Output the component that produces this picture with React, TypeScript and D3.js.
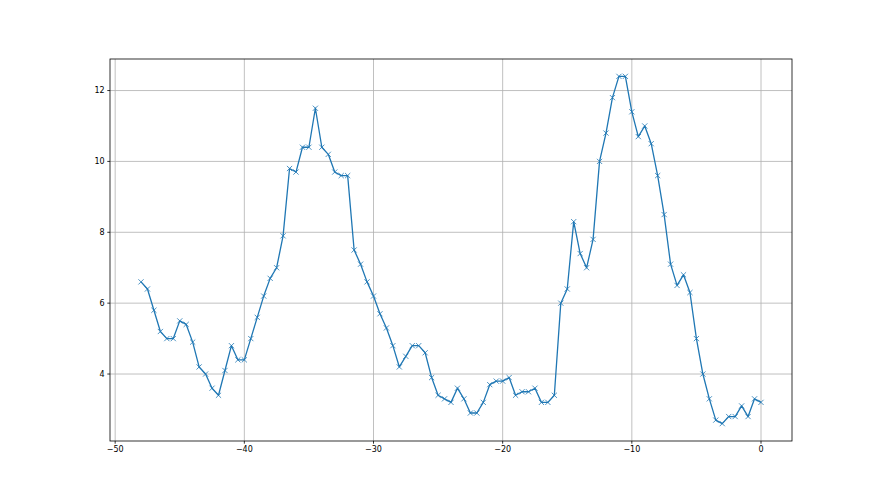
import React from "react";
import * as d3 from "d3";

const xValues: number[] = [
  -48, -47.5, -47, -46.5, -46, -45.5, -45, -44.5, -44, -43.5, -43, -42.5, -42, -41.5, -41, -40.5, -40,
  -39.5, -39, -38.5, -38, -37.5, -37, -36.5, -36, -35.5, -35, -34.5, -34, -33.5, -33, -32.5, -32, -31.5, -31, -30.5, -30,
  -29.5, -29, -28.5, -28, -27.5, -27, -26.5, -26, -25.5, -25, -24.5, -24, -23.5, -23, -22.5, -22, -21.5, -21, -20.5, -20,
  -19.5, -19, -18.5, -18, -17.5, -17, -16.5, -16, -15.5, -15, -14.5, -14, -13.5, -13, -12.5, -12, -11.5, -11, -10.5, -10,
  -9.5, -9, -8.5, -8, -7.5, -7, -6.5, -6, -5.5, -5, -4.5, -4, -3.5, -3, -2.5, -2, -1.5, -1, -0.5, 0,
];

const yValues: number[] = [
  6.6, 6.4, 5.8, 5.2, 5.0, 5.0, 5.5, 5.4, 4.9, 4.2, 4.0, 3.6, 3.4, 4.1, 4.8, 4.4, 4.4,
  5.0, 5.6, 6.2, 6.7, 7.0, 7.9, 9.8, 9.7, 10.4, 10.4, 11.5, 10.4, 10.2, 9.7, 9.6, 9.6, 7.5, 7.1, 6.6, 6.2,
  5.7, 5.3, 4.8, 4.2, 4.5, 4.8, 4.8, 4.6, 3.9, 3.4, 3.3, 3.2, 3.6, 3.3, 2.9, 2.9, 3.2, 3.7, 3.8, 3.8,
  3.9, 3.4, 3.5, 3.5, 3.6, 3.2, 3.2, 3.4, 6.0, 6.4, 8.3, 7.4, 7.0, 7.8, 10.0, 10.8, 11.8, 12.4, 12.4, 11.4,
  10.7, 11.0, 10.5, 9.6, 8.5, 7.1, 6.5, 6.8, 6.3, 5.0, 4.0, 3.3, 2.7, 2.6, 2.8, 2.8, 3.1, 2.8, 3.3, 3.2,
];

const xTicks: number[] = [-50, -40, -30, -20, -10, 0];
const yTicks: number[] = [4, 6, 8, 10, 12];

const W = 880;
const H = 495;
const left = 110;
const right = 792;
const top = 59;
const bottom = 441;
const color = "#1f77b4";

export default function App() {
  const xMin = d3.min(xValues)!;
  const xMax = d3.max(xValues)!;
  const yMin = d3.min(yValues)!;
  const yMax = d3.max(yValues)!;
  const xPad = (xMax - xMin) * 0.05;
  const yPad = (yMax - yMin) * 0.05;
  const x = d3.scaleLinear().domain([xMin - xPad, xMax + xPad]).range([left, right]);
  const y = d3.scaleLinear().domain([yMin - yPad, yMax + yPad]).range([bottom, top]);
  const pts = xValues.map((xv, i) => [xv, yValues[i]] as [number, number]);
  const line = d3
    .line<[number, number]>()
    .x((d) => x(d[0]))
    .y((d) => y(d[1]));
  const font = "'DejaVu Sans', sans-serif";
  const m = 2.6;
  return (
    <div style={{ position: "absolute", left: 0, top: 0 }}>
      <svg width={W} height={H} style={{ display: "block", background: "#fff" }}>
        <rect x={0} y={0} width={W} height={H} fill="#fff" />
        {xTicks.map((t) => (
          <line key={"gx" + t} x1={x(t)} x2={x(t)} y1={top} y2={bottom} stroke="#b0b0b0" strokeWidth={0.8} />
        ))}
        {yTicks.map((t) => (
          <line key={"gy" + t} x1={left} x2={right} y1={y(t)} y2={y(t)} stroke="#b0b0b0" strokeWidth={0.8} />
        ))}
        <path d={line(pts) || ""} fill="none" stroke={color} strokeWidth={1.3} strokeLinejoin="round" />
        {pts.map((p, i) => {
          const cx = x(p[0]);
          const cy = y(p[1]);
          return (
            <path
              key={"m" + i}
              d={`M${cx - m},${cy - m}L${cx + m},${cy + m}M${cx - m},${cy + m}L${cx + m},${cy - m}`}
              stroke={color}
              strokeWidth={0.8}
            />
          );
        })}
        <rect x={left} y={top} width={right - left} height={bottom - top} fill="none" stroke="#000" strokeWidth={0.8} />
        {xTicks.map((t) => (
          <g key={"tx" + t}>
            <line x1={x(t)} x2={x(t)} y1={bottom} y2={bottom + 2.7} stroke="#000" strokeWidth={0.8} />
            <text x={x(t)} y={446} dy="0.76em" textAnchor="middle" fontSize={8} fontFamily={font} fill="#000">
              {t < 0 ? "\u2212" + Math.abs(t) : String(t)}
            </text>
          </g>
        ))}
        {yTicks.map((t) => (
          <g key={"ty" + t}>
            <line x1={left - 2.7} x2={left} y1={y(t)} y2={y(t)} stroke="#000" strokeWidth={0.8} />
            <text x={left - 5.4} y={y(t)} dy="0.35em" textAnchor="end" fontSize={8} fontFamily={font} fill="#000">
              {String(t)}
            </text>
          </g>
        ))}
      </svg>
    </div>
  );
}
